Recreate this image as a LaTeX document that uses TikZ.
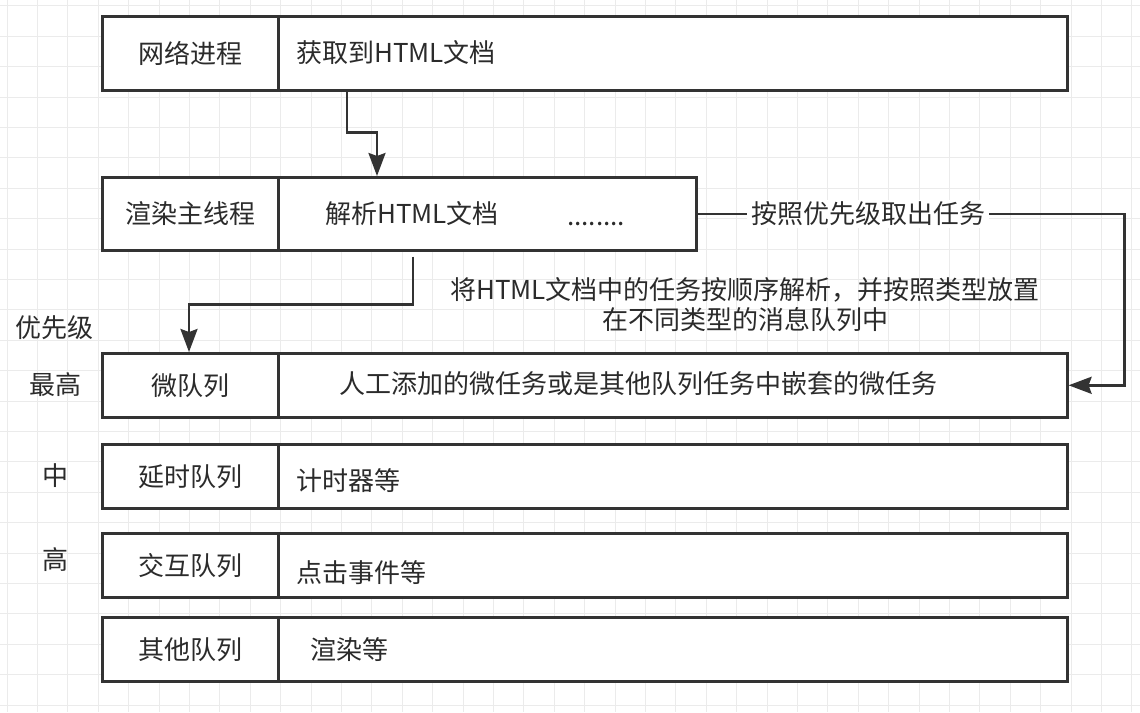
\documentclass[tikz,border=0pt]{standalone}
\usepackage{fontspec}
\setmainfont{Noto Sans CJK SC}
\usetikzlibrary{arrows.meta,calc}
\definecolor{gridc}{HTML}{EBEBEB}
\definecolor{linec}{HTML}{333333}
\definecolor{textc}{HTML}{2B2B2B}
\tikzset{
  cell/.style 2 args={draw=linec,line width=2.6pt,fill=white,anchor=north west,
    inner sep=0pt,minimum width=#1,minimum height=#2},
  txt/.style={anchor=west,inner sep=0pt},
  flow/.style={draw=linec,line width=2.6pt,-{Stealth[length=23pt,width=17pt,inset=3pt]}},
  lbl/.style={fill=white,inner xsep=4pt,inner ysep=2pt}
}
\begin{document}
\begin{tikzpicture}[x=1pt,y=-1pt,font=\fontsize{26}{30}\selectfont,text=textc]
\useasboundingbox (0,0) rectangle (1140,712);
\fill[white] (0,0) rectangle (1140,712);
\foreach \i in {0,...,37}
  {\draw[gridc,line width=1pt] ({7+30.4*\i},0) -- ({7+30.4*\i},712);}
\foreach \i in {0,...,23}
  {\draw[gridc,line width=1pt] (0,{5.8+30.4*\i}) -- (1140,{5.8+30.4*\i});}

\node[cell={176}{74}] (net) at (101,15) {网络进程};
\node[cell={789}{74}] (netdoc) at (277,15) {};
\node[txt] (netdocT) at (296,53) {获取到HTML文档};

\node[cell={176}{73}] (main) at (101,176) {渲染主线程};
\node[cell={418}{73}] (parse) at (277,176) {};
\node[txt] (parseT) at (325,214) {解析HTML文档};
\node[anchor=base west,inner sep=0pt] (dots) at (567,225) {........};

\node[cell={176}{64}] (micro) at (101,352) {微队列};
\node[cell={789}{64}] (microc) at (277,352) {};
\node (microT) at (638,384) {人工添加的微任务或是其他队列任务中嵌套的微任务};

\node[cell={176}{64}] (delay) at (101,443) {延时队列};
\node[cell={789}{64}] (delayc) at (277,443) {};
\node[txt] (delayT) at (296,481) {计时器等};

\node[cell={176}{64}] (inter) at (101,532) {交互队列};
\node[cell={789}{64}] (interc) at (277,532) {};
\node[txt] (interT) at (296,573) {点击事件等};

\node[cell={176}{64}] (other) at (101,616) {其他队列};
\node[cell={789}{64}] (otherc) at (277,616) {};
\node[txt] (otherT) at (310,650) {渲染等};

\node (prio) at (55,328) {优先级};
\node (top) at (55,385) {最高};
\node (mid) at (55,476) {中};
\node (high) at (55,560) {高};

\node[align=center] (note) at (745,305)
  {将HTML文档中的任务按顺序解析，并按照类型放置\\在不同类型的消息队列中};

\draw[flow] ($(netdoc.south west)+(70,0)$) -- ++(0,41) -| ($(parse.north west)+(100,0)$);
\draw[flow] ($(parse.south west)+(136,5)$) -- ++(0,48) -| ($(micro.north west)+(88,0)$);
\draw[flow] (parse.east) -- node[lbl,pos=0.4] (take) {按照优先级取出任务}
  ($(parse.east)+(427,0)$) |- (microc.east);
\end{tikzpicture}
\end{document}
